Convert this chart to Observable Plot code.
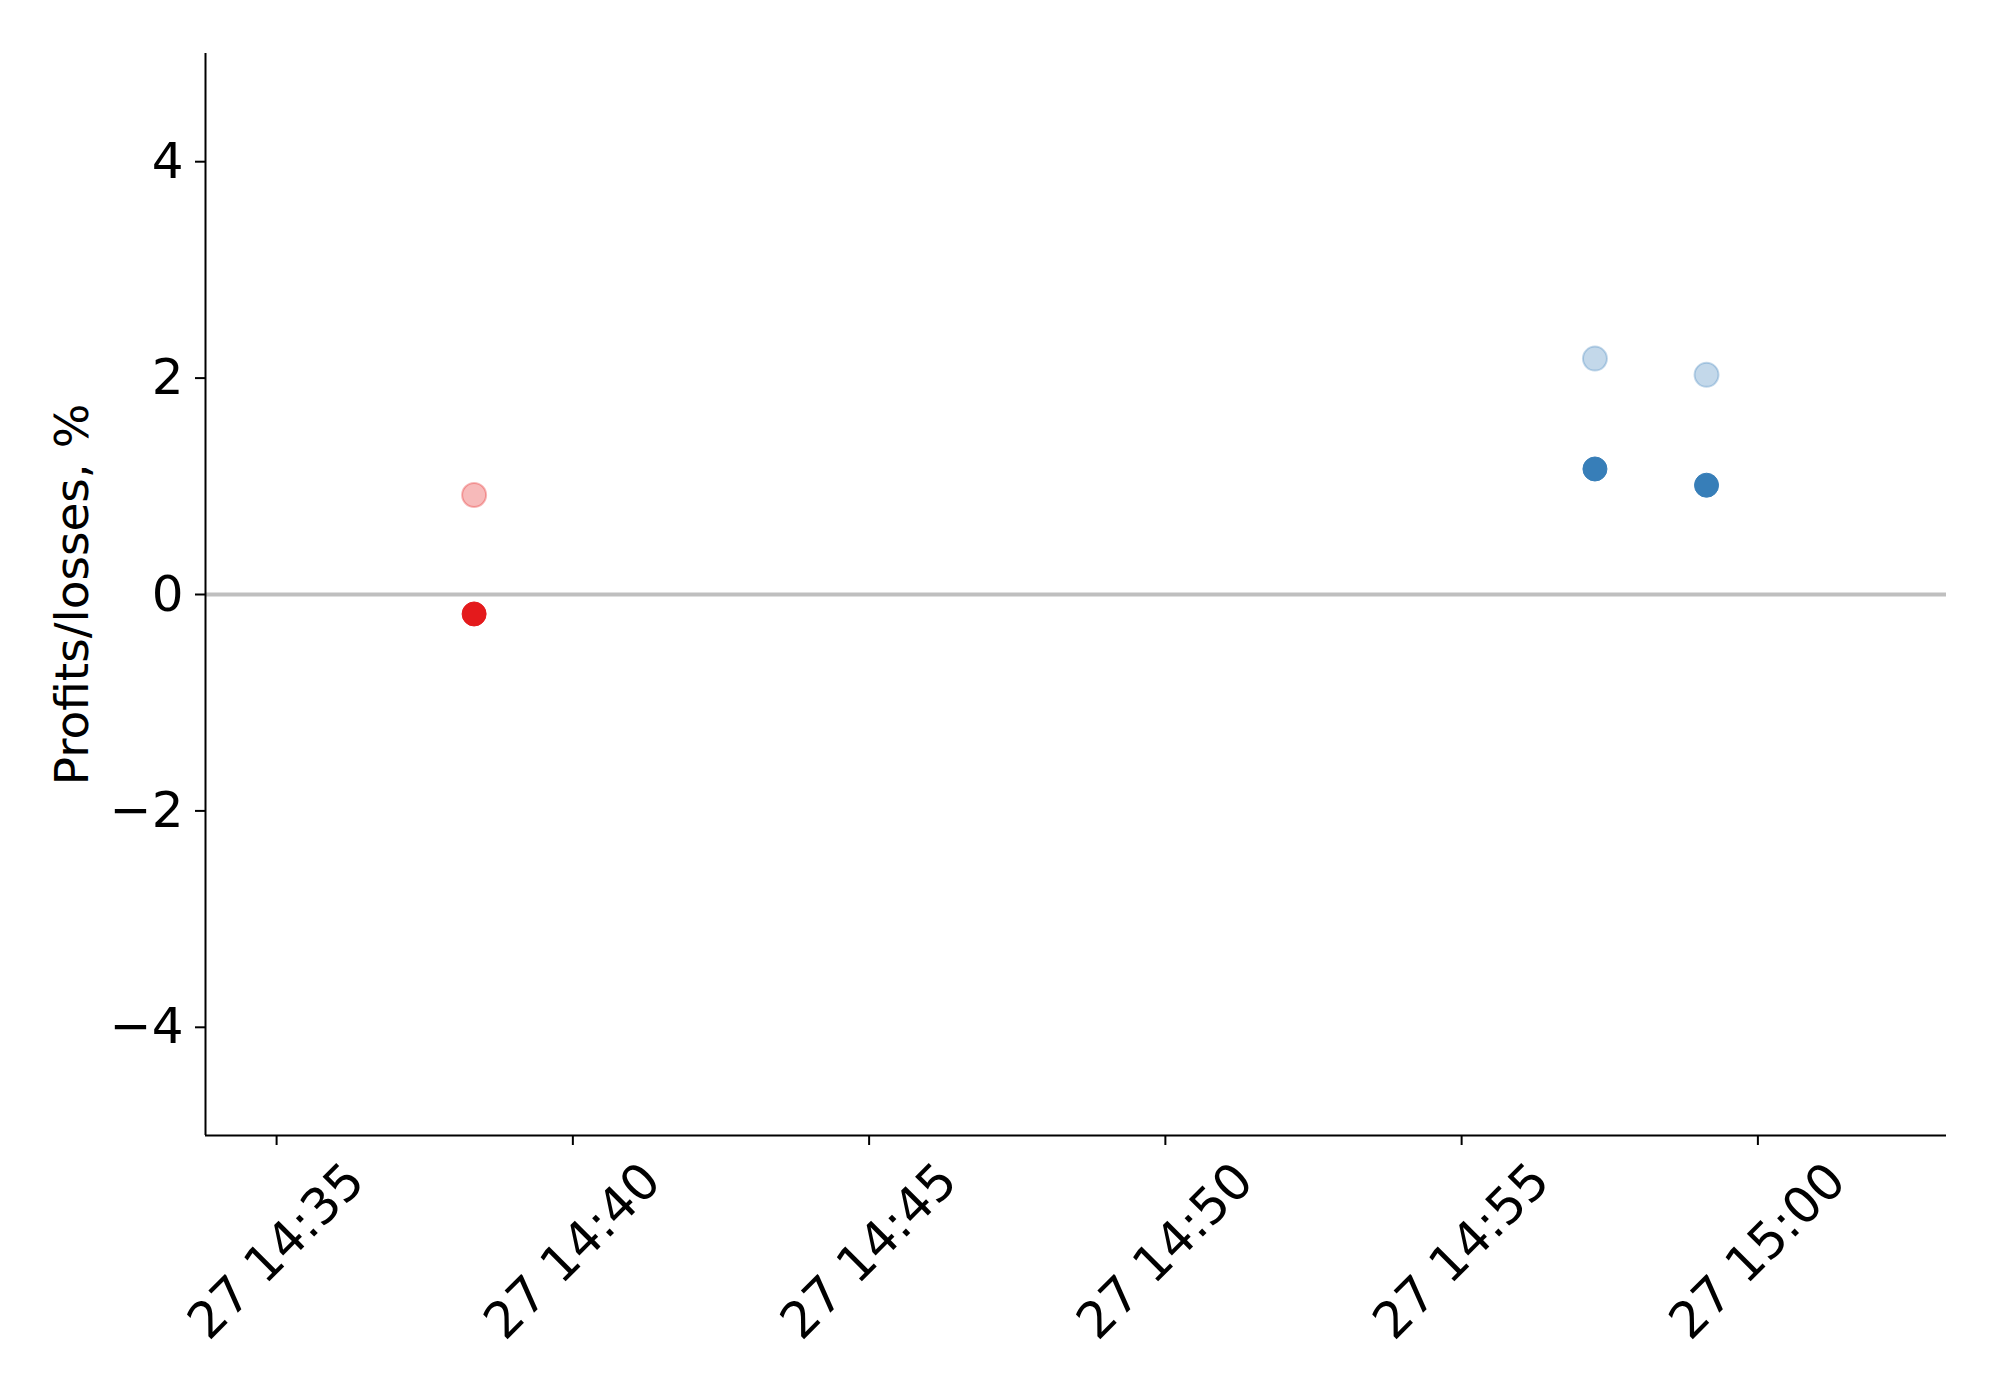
<!DOCTYPE html>
<html>
<head>
<meta charset="utf-8">
<script src="https://cdn.jsdelivr.net/npm/d3@7"></script>
<script src="https://cdn.jsdelivr.net/npm/@observablehq/plot@0.6"></script>
<style>
  html, body { margin: 0; padding: 0; background: #fff; }
  #chart { width: 2000px; height: 1400px; }
  svg { font-family: "DejaVu Sans", sans-serif; }
</style>
</head>
<body>
<div id="chart"></div>
<script>
// Data
const times = ["2021-01-27T14:38:20Z", "2021-01-27T14:57:15Z", "2021-01-27T14:59:08Z"];
const realized = [-0.18, 1.16, 1.01];
const potential = [0.92, 2.18, 2.03];
const xTicks = ["2021-01-27T14:35:00Z", "2021-01-27T14:40:00Z", "2021-01-27T14:45:00Z",
                "2021-01-27T14:50:00Z", "2021-01-27T14:55:00Z", "2021-01-27T15:00:00Z"];
const yTicks = [-4, -2, 0, 2, 4];
const xDomain = ["2021-01-27T14:33:48Z", "2021-01-27T15:03:11Z"];
const yDomain = [-5, 5];
const yLabel = "Profits/losses, %";

const RED = "#e41a1c", BLUE = "#377eb8";
const rows = times.map((t, i) => ({time: new Date(t), realized: realized[i], potential: potential[i]}));
const tickDates = xTicks.map(t => new Date(t));
const fmt = d3.utcFormat("%d %H:%M");
const colorOf = d => d.realized < 0 ? RED : BLUE;

const chart = Plot.plot({
  width: 2000,
  height: 1400,
  marginLeft: 205,
  marginRight: 54,
  marginTop: 53,
  marginBottom: 265,
  style: {fontFamily: "DejaVu Sans, sans-serif", color: "#000", background: "#fff"},
  x: {type: "utc", domain: xDomain.map(d => new Date(d))},
  y: {domain: yDomain},
  marks: [
    Plot.ruleY([0], {stroke: "#bfbfbf", strokeWidth: 4}),
    Plot.ruleX([new Date(xDomain[0])], {stroke: "#000", strokeWidth: 2}),
    Plot.ruleY([yDomain[0]], {stroke: "#000", strokeWidth: 2}),
    Plot.axisY({ticks: yTicks, tickSize: 10, tickPadding: 12, fontSize: 50, strokeWidth: 2, label: null}),
    Plot.axisX({ticks: tickDates, tickSize: 10, tickFormat: () => "", strokeWidth: 2, label: null}),
    Plot.text(tickDates, {x: d => d, frameAnchor: "bottom", dy: 116, rotate: -45,
      textAnchor: "middle", lineAnchor: "middle", text: d => fmt(d), fontSize: 50, fill: "#000"}),
    Plot.text([yLabel], {frameAnchor: "left", dx: -133, rotate: -90, text: d => d,
      textAnchor: "middle", lineAnchor: "middle", fontSize: 47, fill: "#000"}),
    Plot.dot(rows, {x: "time", y: "potential", r: 12, fill: colorOf, fillOpacity: 0.3,
      stroke: colorOf, strokeOpacity: 0.3, strokeWidth: 2}),
    Plot.dot(rows, {x: "time", y: "realized", r: 12, fill: colorOf, stroke: colorOf, strokeWidth: 1})
  ]
});
document.getElementById("chart").appendChild(chart);
</script>
</body>
</html>
